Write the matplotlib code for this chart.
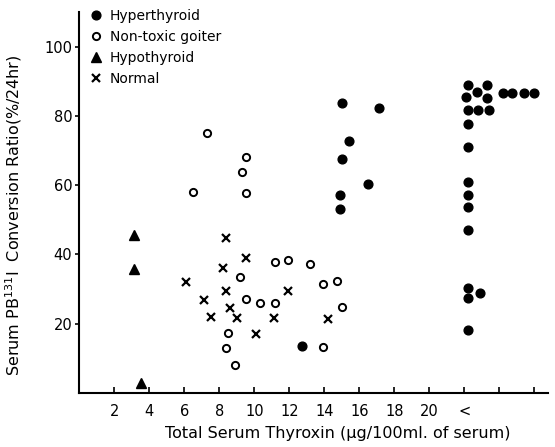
import matplotlib
matplotlib.use("Agg")
import matplotlib.pyplot as plt

# Hyperthyroid (filled circles); points beyond 22 are stacked in the "<" column
hyper_x = [15.0, 17.1, 15.4, 15.0, 16.5, 14.9, 14.9, 12.7,
           22.2, 23.3, 22.7, 22.1, 23.3, 24.2, 24.7, 25.4, 26.0,
           22.2, 22.8, 23.4, 22.2, 22.2, 22.2, 22.2, 22.2, 22.2,
           22.2, 22.9, 22.2, 22.2]
hyper_y = [83.6, 82.4, 72.9, 67.7, 60.2, 57.1, 53.0, 13.5,
           89.0, 89.0, 87.0, 85.6, 85.3, 86.5, 86.5, 86.5, 86.5,
           81.8, 81.8, 81.8, 77.8, 70.9, 60.8, 57.3, 53.6, 47.0,
           30.3, 28.8, 27.4, 18.2]

# Non-toxic goiter (open circles)
goiter_x = [7.3, 9.5, 9.3, 6.5, 9.5, 11.2, 11.9, 13.2, 9.2, 13.9,
            14.7, 9.5, 10.3, 11.2, 15.0, 8.5, 8.4, 8.9, 13.9]
goiter_y = [75.2, 68.0, 63.7, 57.9, 57.6, 37.8, 38.3, 37.2, 33.4, 31.4,
            32.3, 27.1, 25.9, 25.9, 24.8, 17.3, 13.0, 8.1, 13.3]

# Hypothyroid (triangles)
hypo_x = [3.1, 3.1, 3.5]
hypo_y = [45.5, 35.7, 2.9]

# Normal (crosses)
normal_x = [8.4, 9.5, 8.2, 6.1, 8.4, 7.1, 8.6, 7.5, 9.0, 10.1, 11.1, 11.9, 14.2]
normal_y = [44.7, 38.9, 36.0, 32.0, 29.4, 26.8, 24.5, 21.9, 21.6, 17.0, 21.6, 29.4, 21.3]

x_ticks = [2, 4, 6, 8, 10, 12, 14, 16, 18, 20, 22, 24, 26]
x_labels = ["2", "4", "6", "8", "10", "12", "14", "16", "18", "20", "<", "", ""]
y_ticks = [20, 40, 60, 80, 100]

fig = plt.figure(figsize=(5.55, 4.47), dpi=100)
ax = fig.add_axes([0.143, 0.121, 0.845, 0.852])

ax.plot(hyper_x, hyper_y, "o", color="black", ms=6.3, label="Hyperthyroid")
ax.plot(goiter_x, goiter_y, "o", mfc="white", mec="black", mew=1.4, ms=5.2,
        label="Non-toxic goiter")
ax.plot(hypo_x, hypo_y, "^", color="black", ms=6.5, label="Hypothyroid")
ax.plot(normal_x, normal_y, "x", color="black", mew=1.6, ms=6, label="Normal")

ax.set_xlim(0, 26.8)
ax.set_ylim(0, 110)
ax.set_xticks(x_ticks)
ax.set_xticklabels(x_labels)
ax.set_yticks(y_ticks)

for s in ["top", "right"]:
    ax.spines[s].set_visible(False)
for s in ["left", "bottom"]:
    ax.spines[s].set_linewidth(1.5)

ax.tick_params(axis="x", direction="in", length=4, width=1.2, labelsize=10.5, pad=8)
ax.tick_params(axis="y", direction="out", length=3, width=1.2, labelsize=10.5, pad=2)

ax.set_xlabel("Total Serum Thyroxin (\u00b5g/100ml. of serum)", fontsize=11.5)
ax.xaxis.set_label_coords(0.55, -0.088)
ax.set_ylabel("Serum PB$^{131}$I  Conversion Ratio(%/24hr)", fontsize=11.5)
ax.yaxis.set_label_coords(-0.118, 0.467)

ax.legend(loc="upper left", bbox_to_anchor=(0.0, 1.03), frameon=False,
          fontsize=10, handletextpad=0.4, labelspacing=0.5, handlelength=1.2,
          borderaxespad=0.2)

fig.savefig("out.png", dpi=100)
